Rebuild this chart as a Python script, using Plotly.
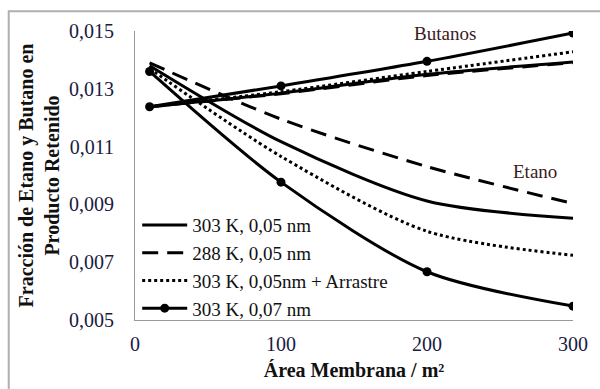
import plotly.graph_objects as go

area = [10, 100, 200, 300]

# Etano (retained fraction)
etano_303_005 = [0.01380, 0.01117, 0.00912, 0.00852]
etano_288_005 = [0.01390, 0.01195, 0.01031, 0.00903]
etano_303_arr = [0.01370, 0.01066, 0.00807, 0.00724]
etano_303_007 = [0.01360, 0.00977, 0.00667, 0.00548]

# Butanos (retained fraction)
but_303_005 = [0.01238, 0.01285, 0.01350, 0.01393]
but_288_005 = [0.01238, 0.01283, 0.01346, 0.01390]
but_303_arr = [0.01238, 0.01290, 0.01360, 0.01428]
but_303_007 = [0.01238, 0.01310, 0.01395, 0.01493]

names = ["303 K, 0,05 nm", "288 K, 0,05 nm", "303 K, 0,05nm + Arrastre", "303 K, 0,07 nm"]
ytickvals = [0.005, 0.007, 0.009, 0.011, 0.013, 0.015]
yticktext = ["0,005", "0,007", "0,009", "0,011", "0,013", "0,015"]
xtickvals = [0, 100, 200, 300]

series = [
    (names[0], etano_303_005, but_303_005, dict(color="black", width=3, dash="solid"), "lines"),
    (names[1], etano_288_005, but_288_005, dict(color="black", width=3, dash="16px,9px"), "lines"),
    (names[2], etano_303_arr, but_303_arr, dict(color="black", width=3, dash="dot"), "lines"),
    (names[3], etano_303_007, but_303_007, dict(color="black", width=3, dash="solid"), "lines+markers"),
]

fig = go.Figure()
for name, et, bu, line, mode in series:
    for i, ys in enumerate([et, bu]):
        fig.add_trace(go.Scatter(
            x=area, y=ys, mode=mode, name=name, legendgroup=name,
            showlegend=(i == 0),
            line=dict(shape="spline", smoothing=0.8, **line),
            marker=dict(size=9, color="black"),
        ))

serif = "Liberation Serif"
fig.update_layout(
    width=600, height=389,
    margin=dict(l=135, r=21, t=31, b=67),
    paper_bgcolor="white", plot_bgcolor="white",
    font=dict(family=serif, size=18, color="#111111"),
    showlegend=True,
    legend=dict(x=0.005, y=-0.025, xanchor="left", yanchor="bottom",
                bgcolor="rgba(0,0,0,0)", font=dict(family=serif, size=19, color="#111111"),
                tracegroupgap=0, itemwidth=45),
    xaxis=dict(range=[0, 300], tickvals=xtickvals, ticks="", showgrid=False,
               showline=True, linecolor="#999999", linewidth=1, zeroline=False,
               ticklabelstandoff=6,
               tickfont=dict(family=serif, size=20, color="#1a1a40"),
               title=dict(text="<b>Área Membrana / m²</b>", standoff=8,
                          font=dict(family=serif, size=20, color="#111111"))),
    yaxis=dict(range=[0.005, 0.015], tickvals=ytickvals, ticktext=yticktext, ticks="",
               showgrid=False, showline=True, linecolor="#999999", linewidth=1, zeroline=False,
               ticklabelstandoff=16,
               tickfont=dict(family=serif, size=20, color="#1a1a40"),
               title=dict(text="<b>Fracción de Etano y Butano en<br>Producto Retenido</b>", standoff=4,
                          font=dict(family=serif, size=20, color="#111111"))),
    annotations=[
        dict(x=212, y=0.0149, xref="x", yref="y", text="Butanos", showarrow=False,
             font=dict(family=serif, size=19, color="#3a1a1a")),
        dict(x=274, y=0.01014, xref="x", yref="y", text="Etano", showarrow=False,
             font=dict(family=serif, size=19, color="#3a1a1a")),
    ],
    shapes=[
        dict(type="rect", xref="paper", yref="paper",
             x0=(7 - 135) / 444, x1=2.0,
             y0=-1.0, y1=1 + (31 - 11) / 291,
             line=dict(color="#b0b0b0", width=2), fillcolor="rgba(0,0,0,0)", layer="below"),
    ],
)

fig.write_html("out.html")
